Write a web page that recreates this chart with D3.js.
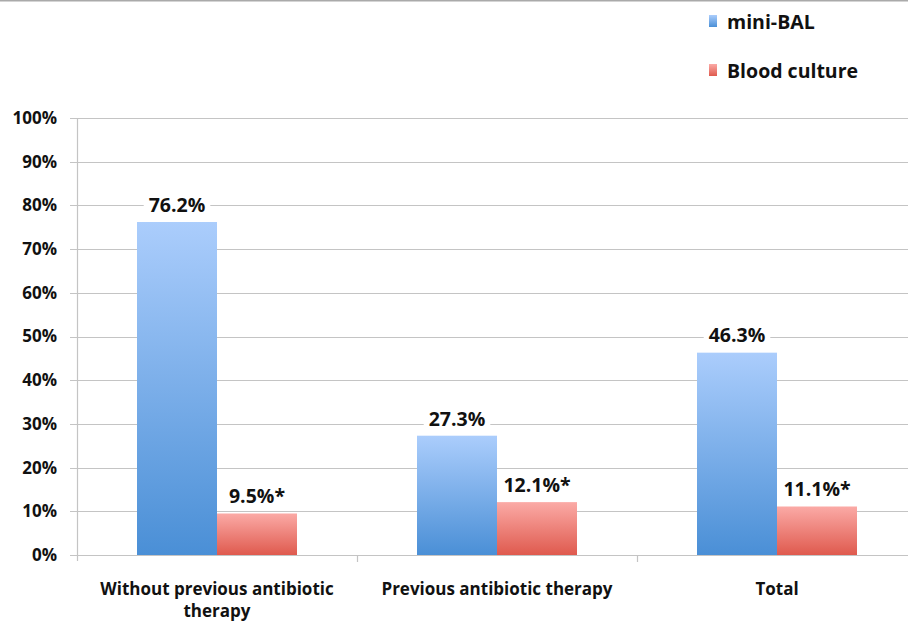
<!DOCTYPE html>
<html><head><meta charset="utf-8">
<script src="https://cdn.jsdelivr.net/npm/d3@7"></script>
<style>body{margin:0;background:#fff}svg{display:block}</style>
</head><body>
<svg id="chart" width="908" height="622"></svg>
<script>
const categories = [["Without previous antibiotic","therapy"],["Previous antibiotic therapy"],["Total"]];
const seriesNames = ["mini-BAL","Blood culture"];
const miniBAL = [76.2, 27.3, 46.3];
const bloodCulture = [9.5, 12.1, 11.1];
const valueLabels = [["76.2%","27.3%","46.3%"],["9.5%*","12.1%*","11.1%*"]];
const yTicks = [0,10,20,30,40,50,60,70,80,90,100];

const font = "'Open Sans', 'Liberation Sans', sans-serif";
const svg = d3.select("#chart");
const W = 908, H = 622;
const x0 = 77, x1 = 917, yTop = 118, yBot = 555;

const defs = svg.append("defs");
function grad(id, top, bot){
  const g = defs.append("linearGradient").attr("id",id).attr("x1",0).attr("y1",0).attr("x2",0).attr("y2",1);
  g.append("stop").attr("offset","0%").attr("stop-color",top);
  g.append("stop").attr("offset","100%").attr("stop-color",bot);
}
grad("gBlue","#abcdfc","#4a8fd6");
grad("gRed","#fbaaa6","#df5a4e");
const fills = ["url(#gBlue)","url(#gRed)"];

svg.append("rect").attr("width",W).attr("height",H).attr("fill","#fff");
svg.append("line").attr("x1",0).attr("x2",W).attr("y1",0.5).attr("y2",0.5).attr("stroke","#aaaaaa").attr("stroke-width",2);

const y = d3.scaleLinear().domain([0,100]).range([yBot,yTop]);
const x = d3.scaleBand().domain(d3.range(categories.length)).range([x0,x1]).paddingInner(0).paddingOuter(0);
const xs = d3.scaleBand().domain(d3.range(2)).range([0,x.bandwidth()]).paddingOuter(0.75).paddingInner(0);

// gridlines
svg.append("g").selectAll("line").data(yTicks).join("line")
  .attr("x1",70).attr("x2",W).attr("y1",d=>Math.round(y(d))+0.5).attr("y2",d=>Math.round(y(d))+0.5)
  .attr("stroke","#c4c4c4").attr("stroke-width",1.2);
// y axis line
svg.append("line").attr("x1",x0+0.5).attr("x2",x0+0.5).attr("y1",yTop).attr("y2",yBot+6).attr("stroke","#c4c4c4").attr("stroke-width",1.2);
// x ticks
svg.append("g").selectAll("line").data(d3.range(1,categories.length+1)).join("line")
  .attr("x1",d=>x0+d*x.bandwidth()+0.5).attr("x2",d=>x0+d*x.bandwidth()+0.5)
  .attr("y1",yBot).attr("y2",yBot+7).attr("stroke","#c4c4c4").attr("stroke-width",1.2);

// y labels
svg.append("g").selectAll("text").data(yTicks).join("text")
  .attr("x",57).attr("y",d=>y(d)).attr("dy","0.35em").attr("text-anchor","end")
  .attr("font-family",font).attr("font-weight","bold").attr("font-size",17).attr("fill","#111")
  .text(d=>d+"%");

const data = [miniBAL, bloodCulture];
data.forEach((vals, s)=>{
  svg.append("g").selectAll("rect").data(vals).join("rect")
    .attr("x",(d,i)=>x(i)+xs(s)).attr("width",xs.bandwidth())
    .attr("y",d=>y(d)).attr("height",d=>yBot-y(d))
    .attr("fill",fills[s]);
});

// value labels with white background
data.forEach((vals, s)=>{
  vals.forEach((d,i)=>{
    const cx = x(i)+xs(s)+xs.bandwidth()/2;
    const cy = y(d)-17;
    const t = svg.append("text").attr("x",cx).attr("y",cy).attr("dy","0.35em").attr("text-anchor","middle")
      .attr("font-family",font).attr("font-weight","bold").attr("font-size",19.5).attr("fill","#111")
      .text(valueLabels[s][i]);
    const bb = t.node().getBBox();
    svg.insert("rect", () => t.node()).attr("x",bb.x-5).attr("y",bb.y).attr("width",bb.width+10).attr("height",bb.height).attr("fill","#fff");
  });
});

// category labels
categories.forEach((lines,i)=>{
  const t = svg.append("text").attr("text-anchor","middle")
    .attr("font-family",font).attr("font-weight","bold").attr("font-size",17).attr("fill","#111");
  lines.forEach((ln,k)=>{
    t.append("tspan").attr("x",x(i)+x.bandwidth()/2).attr("y",595+k*22).text(ln);
  });
});

// legend
seriesNames.forEach((n,s)=>{
  const ly = 22 + s*49;
  svg.append("rect").attr("x",709).attr("y",ly-7).attr("width",8).attr("height",12).attr("fill",fills[s]);
  svg.append("text").attr("x",727).attr("y",ly).attr("dy","0.35em")
    .attr("font-family",font).attr("font-weight","bold").attr("font-size",19.5).attr("fill","#111").text(n);
});
</script>
</body></html>
